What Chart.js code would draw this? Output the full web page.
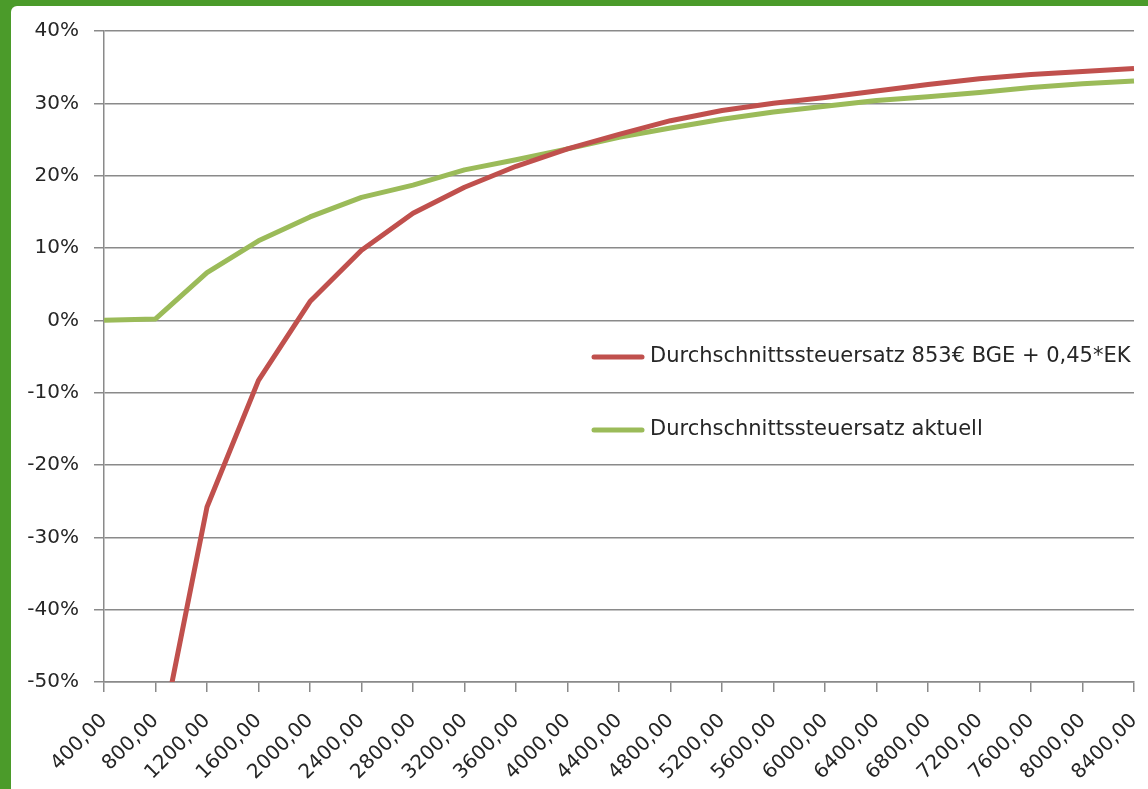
<!DOCTYPE html>
<html>
<head>
<meta charset="utf-8">
<script src="https://cdn.jsdelivr.net/npm/chart.js@4/dist/chart.umd.min.js"></script>
<style>
  html, body { margin: 0; padding: 0; }
  body { width: 1148px; height: 789px; background: #4b9b2a; position: relative; overflow: hidden; }
  #panel { position: absolute; left: 11px; top: 6px; width: 1137px; height: 783px; background: #ffffff; border-top-left-radius: 6px; }
  #c { display: block; }
</style>
</head>
<body>
<div id="panel"><canvas id="c" width="1137" height="783"></canvas></div>
<script>
// ---- data ----
const categories = ['400,00','800,00','1200,00','1600,00','2000,00','2400,00','2800,00','3200,00','3600,00','4000,00','4400,00','4800,00','5200,00','5600,00','6000,00','6400,00','6800,00','7200,00','7600,00','8000,00','8400,00'];
const seriesNames = ['Durchschnittssteuersatz 853€ BGE + 0,45*EK', 'Durchschnittssteuersatz aktuell'];
const bgeRate = [-168, -61.5, -25.8, -8.3, 2.6, 9.7, 14.8, 18.4, 21.3, 23.7, 25.7, 27.6, 29.0, 30.0, 30.8, 31.7, 32.6, 33.4, 34.0, 34.4, 34.8];
const currentRate = [0, 0.2, 6.6, 11.0, 14.3, 17.0, 18.7, 20.8, 22.2, 23.7, 25.3, 26.6, 27.8, 28.8, 29.6, 30.4, 30.9, 31.5, 32.2, 32.7, 33.1];
const yMin = -50, yMax = 40, yStep = 10;

const seriesColors = ['#c0504d', '#9bbb59'];
const gridColor = '#8a8a8a';
const textColor = '#262626';

const insideLegend = {
  id: 'insideLegend',
  afterDraw(chart) {
    const ctx = chart.ctx;
    const a = chart.chartArea;
    const rows = [326, 399];
    ctx.save();
    ctx.font = '21px "DejaVu Sans"';
    ctx.fillStyle = textColor;
    ctx.textBaseline = 'middle';
    chart.data.datasets.forEach((ds, i) => {
      const y = a.top + rows[i];
      ctx.strokeStyle = ds.borderColor;
      ctx.lineWidth = 5;
      ctx.lineCap = 'round';
      ctx.beginPath();
      ctx.moveTo(a.left + 490, y);
      ctx.lineTo(a.left + 538, y);
      ctx.stroke();
      ctx.fillText(ds.label, a.left + 546, y);
    });
    ctx.restore();
  }
};

new Chart(document.getElementById('c'), {
  type: 'line',
  data: {
    labels: categories,
    datasets: [
      { label: seriesNames[0], data: bgeRate, borderColor: seriesColors[0], backgroundColor: seriesColors[0],
        borderWidth: 5, pointRadius: 0, tension: 0, borderJoinStyle: 'round', clip: {left: 5, right: 5, top: 5, bottom: 0} },
      { label: seriesNames[1], data: currentRate, borderColor: seriesColors[1], backgroundColor: seriesColors[1],
        borderWidth: 5, pointRadius: 0, tension: 0, borderJoinStyle: 'round', clip: {left: 5, right: 5, top: 5, bottom: 0} }
    ]
  },
  options: {
    responsive: false,
    animation: false,
    devicePixelRatio: 1,
    layout: { padding: { top: 25, right: 14, left: 0, bottom: 0 } },
    plugins: { legend: { display: false }, tooltip: { enabled: false } },
    scales: {
      x: {
        offset: false,
        grid: { drawOnChartArea: false, drawTicks: true, tickLength: 10, color: gridColor, lineWidth: 1.5 },
        border: { display: true, color: gridColor, width: 1.5 },
        ticks: { autoSkip: false, maxRotation: 45, minRotation: 45, padding: 17, color: textColor,
                 font: { family: 'DejaVu Sans', size: 20 } },
        afterFit(scale) { scale.height = 107; scale.paddingLeft = 0; scale.paddingRight = 0; }
      },
      y: {
        min: yMin, max: yMax,
        grid: { color: gridColor, lineWidth: 1.5, tickLength: 10 },
        border: { display: true, color: gridColor, width: 1.5 },
        ticks: { stepSize: yStep, padding: 15, color: textColor, font: { family: 'DejaVu Sans', size: 20 },
                 callback: v => v + '%' },
        afterFit(scale) { scale.width = 93; scale.paddingTop = 0; scale.paddingBottom = 0; }
      }
    }
  },
  plugins: [insideLegend]
});
</script>
</body>
</html>
